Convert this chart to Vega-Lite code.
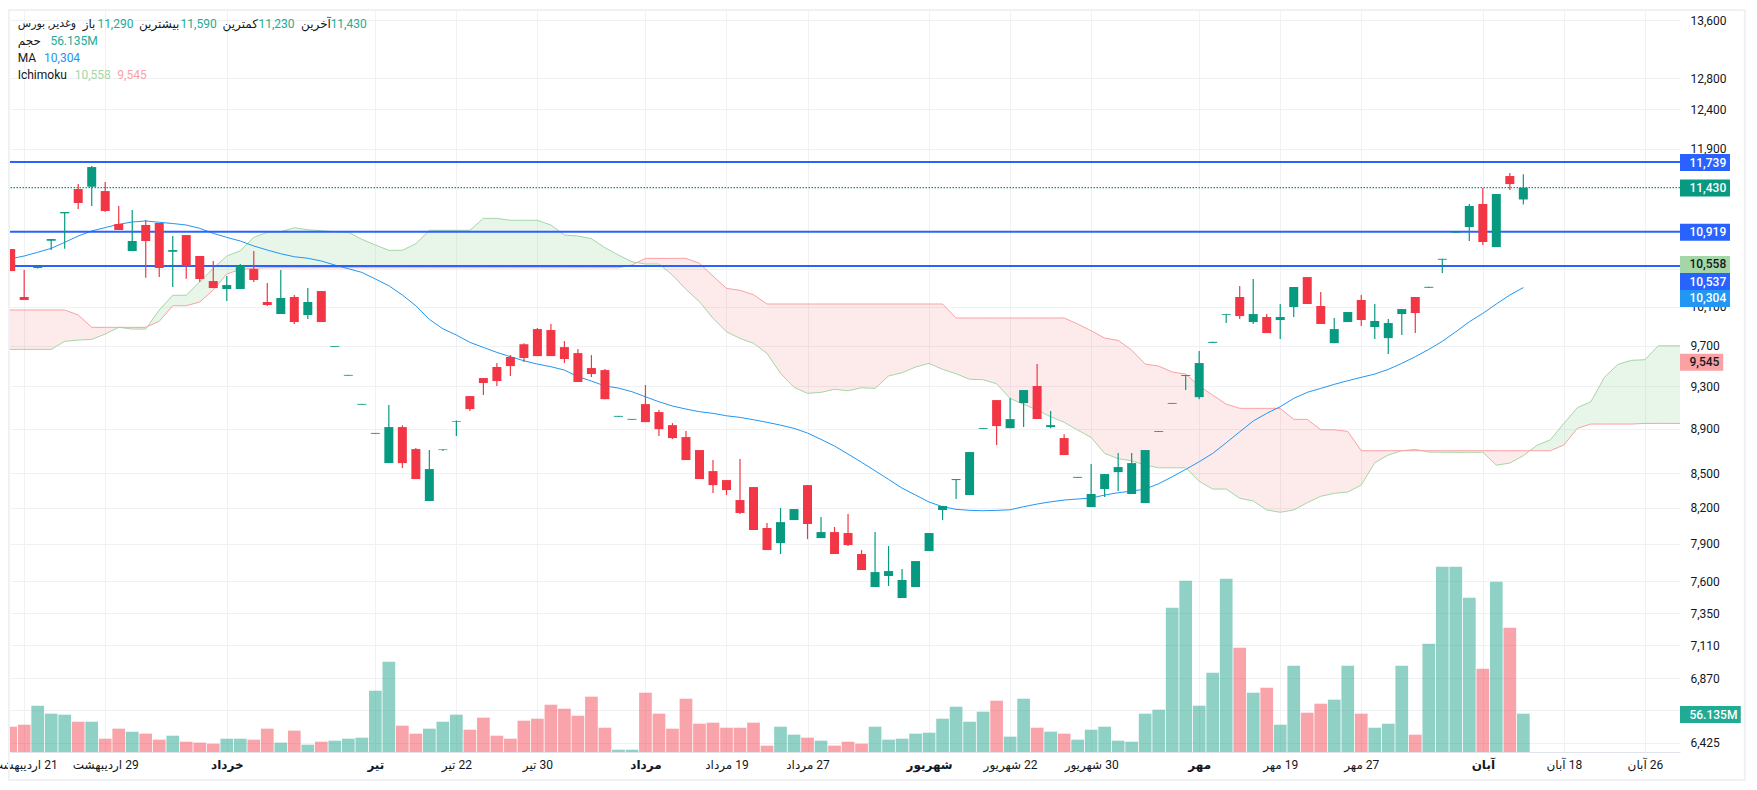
{
  "$schema": "https://vega.github.io/schema/vega-lite/v6.json",
  "width": 1670,
  "height": 742,
  "autosize": "none",
  "padding": {"left": 10, "top": 10, "right": 77, "bottom": 38},
  "background": "white",
  "config": {
    "font": "Roboto, DejaVu Sans",
    "view": {"stroke": null},
    "text": {"font": "Roboto, DejaVu Sans", "fontSize": 12}
  },
  "datasets": {
    "candles": [
      {"bar":-1,"open":10724,"high":10724,"low":10482,"close":10482,"volume":37.1,"ma":10617},
      {"bar":0,"open":10204,"high":10493,"low":10172,"close":10172,"volume":40.0,"ma":10647},
      {"bar":1,"open":10515,"high":10531,"low":10509,"close":10531,"volume":67.9,"ma":10688},
      {"bar":2,"open":10817,"high":10836,"low":10713,"close":10836,"volume":56.2,"ma":10732},
      {"bar":3,"open":11129,"high":11144,"low":10727,"close":11144,"volume":54.7,"ma":10799},
      {"bar":4,"open":11413,"high":11472,"low":11179,"close":11249,"volume":44.4,"ma":10870},
      {"bar":5,"open":11440,"high":11688,"low":11214,"close":11676,"volume":44.4,"ma":10927},
      {"bar":6,"open":11389,"high":11496,"low":11144,"close":11156,"volume":19.5,"ma":10966},
      {"bar":7,"open":11006,"high":11214,"low":10938,"close":10938,"volume":34.2,"ma":11003},
      {"bar":8,"open":10702,"high":11167,"low":10702,"close":10814,"volume":29.8,"ma":11029},
      {"bar":9,"open":10995,"high":11052,"low":10410,"close":10814,"volume":26.9,"ma":11041},
      {"bar":10,"open":11018,"high":11018,"low":10417,"close":10515,"volume":18.1,"ma":11026},
      {"bar":11,"open":10694,"high":10870,"low":10310,"close":10713,"volume":23.9,"ma":11012},
      {"bar":12,"open":10881,"high":10881,"low":10399,"close":10537,"volume":15.1,"ma":10995},
      {"bar":13,"open":10647,"high":10647,"low":10364,"close":10396,"volume":13.7,"ma":10957},
      {"bar":14,"open":10374,"high":10592,"low":10299,"close":10299,"volume":12.2,"ma":10900},
      {"bar":15,"open":10289,"high":10428,"low":10162,"close":10331,"volume":19.5,"ma":10855},
      {"bar":16,"open":10289,"high":10559,"low":10289,"close":10537,"volume":19.5,"ma":10814},
      {"bar":17,"open":10504,"high":10702,"low":10364,"close":10385,"volume":18.1,"ma":10758},
      {"bar":18,"open":10151,"high":10353,"low":10109,"close":10119,"volume":34.2,"ma":10713},
      {"bar":19,"open":10025,"high":10493,"low":10025,"close":10193,"volume":13.7,"ma":10672},
      {"bar":20,"open":10204,"high":10225,"low":9922,"close":9942,"volume":31.3,"ma":10639},
      {"bar":21,"open":10015,"high":10299,"low":9973,"close":10151,"volume":10.7,"ma":10622},
      {"bar":22,"open":10267,"high":10267,"low":9942,"close":9942,"volume":15.1,"ma":10592},
      {"bar":23,"open":9690,"high":9698,"low":9690,"close":9698,"volume":16.6,"ma":10548},
      {"bar":24,"open":9404,"high":9412,"low":9404,"close":9412,"volume":19.5,"ma":10507},
      {"bar":25,"open":9125,"high":9133,"low":9125,"close":9133,"volume":21.0,"ma":10468},
      {"bar":26,"open":8854,"high":8862,"low":8854,"close":8862,"volume":89.8,"ma":10396},
      {"bar":27,"open":8589,"high":9122,"low":8589,"close":8916,"volume":132.3,"ma":10324},
      {"bar":28,"open":8916,"high":8934,"low":8545,"close":8589,"volume":38.6,"ma":10225},
      {"bar":29,"open":8715,"high":8724,"low":8448,"close":8448,"volume":26.9,"ma":10112},
      {"bar":30,"open":8258,"high":8706,"low":8258,"close":8536,"volume":34.2,"ma":9970},
      {"bar":31,"open":8706,"high":8712,"low":8697,"close":8712,"volume":44.4,"ma":9873},
      {"bar":32,"open":8963,"high":8978,"low":8833,"close":8969,"volume":54.7,"ma":9809},
      {"bar":33,"open":9207,"high":9207,"low":9066,"close":9084,"volume":32.7,"ma":9735},
      {"bar":34,"open":9381,"high":9381,"low":9217,"close":9333,"volume":50.3,"ma":9684},
      {"bar":35,"open":9489,"high":9528,"low":9304,"close":9352,"volume":23.9,"ma":9634},
      {"bar":36,"open":9588,"high":9607,"low":9401,"close":9498,"volume":19.5,"ma":9591},
      {"bar":37,"open":9717,"high":9727,"low":9538,"close":9578,"volume":45.9,"ma":9551},
      {"bar":38,"open":9870,"high":9881,"low":9597,"close":9597,"volume":48.8,"ma":9518},
      {"bar":39,"open":9860,"high":9922,"low":9597,"close":9597,"volume":69.3,"ma":9492},
      {"bar":40,"open":9687,"high":9748,"low":9528,"close":9568,"volume":63.5,"ma":9459},
      {"bar":41,"open":9627,"high":9667,"low":9343,"close":9343,"volume":53.2,"ma":9394},
      {"bar":42,"open":9479,"high":9607,"low":9391,"close":9420,"volume":81.1,"ma":9352},
      {"bar":43,"open":9459,"high":9469,"low":9178,"close":9178,"volume":35.6,"ma":9304},
      {"bar":44,"open":9012,"high":9020,"low":9012,"close":9020,"volume":3.4,"ma":9284},
      {"bar":45,"open":8984,"high":8992,"low":8984,"close":8992,"volume":3.4,"ma":9249},
      {"bar":46,"open":9131,"high":9313,"low":8962,"close":8962,"volume":86.9,"ma":9201},
      {"bar":47,"open":9056,"high":9075,"low":8833,"close":8897,"volume":56.2,"ma":9153},
      {"bar":48,"open":8934,"high":8953,"low":8806,"close":8815,"volume":34.2,"ma":9113},
      {"bar":49,"open":8824,"high":8879,"low":8616,"close":8616,"volume":78.1,"ma":9084},
      {"bar":50,"open":8706,"high":8706,"low":8448,"close":8448,"volume":41.5,"ma":9059},
      {"bar":51,"open":8518,"high":8616,"low":8326,"close":8395,"volume":43.0,"ma":9044},
      {"bar":52,"open":8439,"high":8439,"low":8309,"close":8352,"volume":35.6,"ma":9021},
      {"bar":53,"open":8266,"high":8625,"low":8147,"close":8156,"volume":35.6,"ma":9006},
      {"bar":54,"open":8378,"high":8378,"low":8013,"close":8013,"volume":43.0,"ma":8984},
      {"bar":55,"open":8030,"high":8071,"low":7848,"close":7848,"volume":9.3,"ma":8960},
      {"bar":56,"open":7905,"high":8198,"low":7816,"close":8079,"volume":37.1,"ma":8934},
      {"bar":57,"open":8096,"high":8189,"low":8096,"close":8189,"volume":25.4,"ma":8904},
      {"bar":58,"open":8395,"high":8395,"low":7938,"close":8063,"volume":21.0,"ma":8861},
      {"bar":59,"open":7946,"high":8121,"low":7946,"close":7996,"volume":16.6,"ma":8803},
      {"bar":60,"open":7996,"high":8038,"low":7816,"close":7816,"volume":9.3,"ma":8742},
      {"bar":61,"open":7988,"high":8147,"low":7881,"close":7889,"volume":15.1,"ma":8670},
      {"bar":62,"open":7816,"high":7848,"low":7687,"close":7687,"volume":12.2,"ma":8596},
      {"bar":63,"open":7553,"high":7996,"low":7553,"close":7671,"volume":37.1,"ma":8521},
      {"bar":64,"open":7640,"high":7881,"low":7561,"close":7679,"volume":18.1,"ma":8445},
      {"bar":65,"open":7467,"high":7695,"low":7467,"close":7608,"volume":19.5,"ma":8369},
      {"bar":66,"open":7553,"high":7759,"low":7553,"close":7759,"volume":26.9,"ma":8309},
      {"bar":67,"open":7840,"high":7988,"low":7840,"close":7988,"volume":28.3,"ma":8249},
      {"bar":68,"open":8181,"high":8215,"low":8096,"close":8215,"volume":48.8,"ma":8209},
      {"bar":69,"open":8439,"high":8448,"low":8275,"close":8448,"volume":66.4,"ma":8187},
      {"bar":70,"open":8309,"high":8688,"low":8309,"close":8688,"volume":44.4,"ma":8178},
      {"bar":71,"open":8900,"high":8908,"low":8900,"close":8908,"volume":59.1,"ma":8175},
      {"bar":72,"open":9169,"high":9169,"low":8751,"close":8925,"volume":75.2,"ma":8178},
      {"bar":73,"open":8906,"high":9188,"low":8906,"close":8990,"volume":22.5,"ma":8183},
      {"bar":74,"open":9141,"high":9265,"low":8916,"close":9265,"volume":78.1,"ma":8209},
      {"bar":75,"open":9304,"high":9518,"low":8990,"close":8990,"volume":35.6,"ma":8232},
      {"bar":76,"open":8916,"high":9066,"low":8906,"close":8934,"volume":29.8,"ma":8251},
      {"bar":77,"open":8815,"high":8851,"low":8661,"close":8661,"volume":26.9,"ma":8266},
      {"bar":78,"open":8459,"high":8467,"low":8459,"close":8467,"volume":18.1,"ma":8275},
      {"bar":79,"open":8206,"high":8580,"low":8206,"close":8318,"volume":32.7,"ma":8283},
      {"bar":80,"open":8361,"high":8492,"low":8292,"close":8492,"volume":37.1,"ma":8309},
      {"bar":81,"open":8509,"high":8679,"low":8343,"close":8554,"volume":16.6,"ma":8329},
      {"bar":82,"open":8318,"high":8679,"low":8318,"close":8589,"volume":15.1,"ma":8343},
      {"bar":83,"open":8240,"high":8706,"low":8240,"close":8706,"volume":56.2,"ma":8361},
      {"bar":84,"open":8872,"high":8880,"low":8872,"close":8880,"volume":62.0,"ma":8407},
      {"bar":85,"open":9134,"high":9142,"low":9134,"close":9142,"volume":211.4,"ma":8468},
      {"bar":86,"open":9401,"high":9410,"low":9265,"close":9410,"volume":251.0,"ma":8533},
      {"bar":87,"open":9197,"high":9647,"low":9178,"close":9528,"volume":67.9,"ma":8601},
      {"bar":88,"open":9730,"high":9740,"low":9730,"close":9740,"volume":116.2,"ma":8676},
      {"bar":89,"open":10018,"high":10026,"low":9932,"close":10026,"volume":253.9,"ma":8772},
      {"bar":90,"open":10204,"high":10321,"low":9973,"close":10004,"volume":152.8,"ma":8872},
      {"bar":91,"open":9942,"high":10396,"low":9922,"close":10025,"volume":86.9,"ma":8972},
      {"bar":92,"open":9994,"high":10025,"low":9829,"close":9829,"volume":94.2,"ma":9044},
      {"bar":93,"open":9963,"high":10130,"low":9768,"close":9994,"volume":40.0,"ma":9106},
      {"bar":94,"open":10098,"high":10310,"low":9994,"close":10310,"volume":126.5,"ma":9185},
      {"bar":95,"open":10417,"high":10417,"low":10130,"close":10130,"volume":57.6,"ma":9243},
      {"bar":96,"open":10109,"high":10257,"low":9922,"close":9922,"volume":70.8,"ma":9281},
      {"bar":97,"open":9727,"high":9984,"low":9727,"close":9870,"volume":76.7,"ma":9320},
      {"bar":98,"open":9942,"high":10046,"low":9942,"close":10046,"volume":126.5,"ma":9355},
      {"bar":99,"open":10172,"high":10225,"low":9901,"close":9963,"volume":56.2,"ma":9388},
      {"bar":100,"open":9891,"high":10130,"low":9768,"close":9953,"volume":35.6,"ma":9420},
      {"bar":101,"open":9778,"high":9973,"low":9617,"close":9932,"volume":41.5,"ma":9466},
      {"bar":102,"open":10025,"high":10077,"low":9809,"close":10077,"volume":126.5,"ma":9525},
      {"bar":103,"open":10204,"high":10204,"low":9829,"close":10036,"volume":25.4,"ma":9591},
      {"bar":104,"open":10302,"high":10312,"low":10302,"close":10312,"volume":158.7,"ma":9664},
      {"bar":105,"open":10606,"high":10616,"low":10461,"close":10616,"volume":271.5,"ma":9745},
      {"bar":106,"open":10908,"high":10916,"low":10908,"close":10916,"volume":271.5,"ma":9842},
      {"bar":107,"open":10972,"high":11237,"low":10814,"close":11214,"volume":226.1,"ma":9945},
      {"bar":108,"open":11237,"high":11425,"low":10769,"close":10803,"volume":122.1,"ma":10032},
      {"bar":109,"open":10746,"high":11354,"low":10746,"close":11354,"volume":249.5,"ma":10130},
      {"bar":110,"open":11568,"high":11604,"low":11401,"close":11472,"volume":182.1,"ma":10225},
      {"bar":111,"open":11290,"high":11590,"low":11230,"close":11430,"volume":56.135,"ma":10304}
    ],
    "ichimoku": [
      {"bar":-1.05,"a":9664,"b":10067,"kumo":"bear","seg":1},
      {"bar":2,"a":9664,"b":10067,"kumo":"bear","seg":1},
      {"bar":3,"a":9745,"b":10067,"kumo":"bear","seg":1},
      {"bar":4,"a":9758,"b":10015,"kumo":"bear","seg":1},
      {"bar":5,"a":9765,"b":9888,"kumo":"bear","seg":1},
      {"bar":6,"a":9819,"b":9888,"kumo":"bear","seg":1},
      {"bar":7,"a":9888,"b":9888,"kumo":"bear","seg":1},
      {"bar":8,"a":9870,"b":9888,"kumo":"bear","seg":1},
      {"bar":9,"a":9870,"b":9888,"kumo":"bear","seg":1},
      {"bar":9.13,"a":9896,"b":9896,"kumo":"bear","seg":1},
      {"bar":9.13,"a":9896,"b":9896,"kumo":"bull","seg":2},
      {"bar":10,"a":10067,"b":9950,"kumo":"bull","seg":2},
      {"bar":11,"a":10222,"b":10112,"kumo":"bull","seg":2},
      {"bar":12,"a":10222,"b":10112,"kumo":"bull","seg":2},
      {"bar":13,"a":10367,"b":10151,"kumo":"bull","seg":2},
      {"bar":14,"a":10512,"b":10278,"kumo":"bull","seg":2},
      {"bar":15,"a":10647,"b":10450,"kumo":"bull","seg":2},
      {"bar":16,"a":10705,"b":10501,"kumo":"bull","seg":2},
      {"bar":17,"a":10855,"b":10512,"kumo":"bull","seg":2},
      {"bar":18,"a":10912,"b":10518,"kumo":"bull","seg":2},
      {"bar":19,"a":10919,"b":10518,"kumo":"bull","seg":2},
      {"bar":20,"a":10964,"b":10518,"kumo":"bull","seg":2},
      {"bar":21,"a":10941,"b":10518,"kumo":"bull","seg":2},
      {"bar":22,"a":10930,"b":10518,"kumo":"bull","seg":2},
      {"bar":23,"a":10919,"b":10518,"kumo":"bull","seg":2},
      {"bar":24,"a":10912,"b":10518,"kumo":"bull","seg":2},
      {"bar":25,"a":10833,"b":10518,"kumo":"bull","seg":2},
      {"bar":26,"a":10769,"b":10518,"kumo":"bull","seg":2},
      {"bar":27,"a":10710,"b":10518,"kumo":"bull","seg":2},
      {"bar":28,"a":10710,"b":10518,"kumo":"bull","seg":2},
      {"bar":29,"a":10784,"b":10518,"kumo":"bull","seg":2},
      {"bar":30,"a":10935,"b":10518,"kumo":"bull","seg":2},
      {"bar":31,"a":10935,"b":10518,"kumo":"bull","seg":2},
      {"bar":32,"a":10935,"b":10518,"kumo":"bull","seg":2},
      {"bar":33,"a":10935,"b":10518,"kumo":"bull","seg":2},
      {"bar":34,"a":11071,"b":10518,"kumo":"bull","seg":2},
      {"bar":35,"a":11071,"b":10518,"kumo":"bull","seg":2},
      {"bar":36,"a":11049,"b":10518,"kumo":"bull","seg":2},
      {"bar":37,"a":11049,"b":10518,"kumo":"bull","seg":2},
      {"bar":38,"a":11049,"b":10518,"kumo":"bull","seg":2},
      {"bar":39,"a":10995,"b":10518,"kumo":"bull","seg":2},
      {"bar":40,"a":10881,"b":10518,"kumo":"bull","seg":2},
      {"bar":41,"a":10870,"b":10518,"kumo":"bull","seg":2},
      {"bar":42,"a":10840,"b":10518,"kumo":"bull","seg":2},
      {"bar":43,"a":10739,"b":10518,"kumo":"bull","seg":2},
      {"bar":44,"a":10658,"b":10518,"kumo":"bull","seg":2},
      {"bar":45,"a":10584,"b":10548,"kumo":"bull","seg":2},
      {"bar":45.37,"a":10575,"b":10575,"kumo":"bull","seg":2},
      {"bar":45.37,"a":10575,"b":10575,"kumo":"bear","seg":3},
      {"bar":46,"a":10559,"b":10621,"kumo":"bear","seg":3},
      {"bar":47,"a":10559,"b":10621,"kumo":"bear","seg":3},
      {"bar":48,"a":10439,"b":10621,"kumo":"bear","seg":3},
      {"bar":49,"a":10285,"b":10621,"kumo":"bear","seg":3},
      {"bar":50,"a":10154,"b":10567,"kumo":"bear","seg":3},
      {"bar":51,"a":9981,"b":10428,"kumo":"bear","seg":3},
      {"bar":52,"a":9842,"b":10296,"kumo":"bear","seg":3},
      {"bar":53,"a":9775,"b":10275,"kumo":"bear","seg":3},
      {"bar":54,"a":9725,"b":10228,"kumo":"bear","seg":3},
      {"bar":55,"a":9624,"b":10130,"kumo":"bear","seg":3},
      {"bar":56,"a":9427,"b":10130,"kumo":"bear","seg":3},
      {"bar":57,"a":9291,"b":10130,"kumo":"bear","seg":3},
      {"bar":58,"a":9233,"b":10130,"kumo":"bear","seg":3},
      {"bar":59,"a":9243,"b":10130,"kumo":"bear","seg":3},
      {"bar":60,"a":9272,"b":10130,"kumo":"bear","seg":3},
      {"bar":61,"a":9258,"b":10130,"kumo":"bear","seg":3},
      {"bar":62,"a":9287,"b":10130,"kumo":"bear","seg":3},
      {"bar":63,"a":9281,"b":10130,"kumo":"bear","seg":3},
      {"bar":64,"a":9401,"b":10130,"kumo":"bear","seg":3},
      {"bar":65,"a":9433,"b":10130,"kumo":"bear","seg":3},
      {"bar":66,"a":9489,"b":10130,"kumo":"bear","seg":3},
      {"bar":67,"a":9525,"b":10130,"kumo":"bear","seg":3},
      {"bar":68,"a":9466,"b":10130,"kumo":"bear","seg":3},
      {"bar":69,"a":9423,"b":9984,"kumo":"bear","seg":3},
      {"bar":70,"a":9369,"b":9984,"kumo":"bear","seg":3},
      {"bar":71,"a":9365,"b":9984,"kumo":"bear","seg":3},
      {"bar":72,"a":9326,"b":9984,"kumo":"bear","seg":3},
      {"bar":73,"a":9185,"b":9984,"kumo":"bear","seg":3},
      {"bar":74,"a":9129,"b":9984,"kumo":"bear","seg":3},
      {"bar":75,"a":9075,"b":9984,"kumo":"bear","seg":3},
      {"bar":76,"a":9012,"b":9984,"kumo":"bear","seg":3},
      {"bar":77,"a":8960,"b":9984,"kumo":"bear","seg":3},
      {"bar":78,"a":8888,"b":9922,"kumo":"bear","seg":3},
      {"bar":79,"a":8821,"b":9853,"kumo":"bear","seg":3},
      {"bar":80,"a":8676,"b":9778,"kumo":"bear","seg":3},
      {"bar":81,"a":8628,"b":9755,"kumo":"bear","seg":3},
      {"bar":82,"a":8610,"b":9657,"kumo":"bear","seg":3},
      {"bar":83,"a":8571,"b":9518,"kumo":"bear","seg":3},
      {"bar":84,"a":8547,"b":9498,"kumo":"bear","seg":3},
      {"bar":85,"a":8547,"b":9440,"kumo":"bear","seg":3},
      {"bar":86,"a":8547,"b":9420,"kumo":"bear","seg":3},
      {"bar":87,"a":8428,"b":9304,"kumo":"bear","seg":3},
      {"bar":88,"a":8361,"b":9217,"kumo":"bear","seg":3},
      {"bar":89,"a":8361,"b":9131,"kumo":"bear","seg":3},
      {"bar":90,"a":8281,"b":9091,"kumo":"bear","seg":3},
      {"bar":91,"a":8258,"b":9091,"kumo":"bear","seg":3},
      {"bar":92,"a":8181,"b":9091,"kumo":"bear","seg":3},
      {"bar":93,"a":8162,"b":9091,"kumo":"bear","seg":3},
      {"bar":94,"a":8181,"b":8988,"kumo":"bear","seg":3},
      {"bar":95,"a":8243,"b":8988,"kumo":"bear","seg":3},
      {"bar":96,"a":8298,"b":8891,"kumo":"bear","seg":3},
      {"bar":97,"a":8324,"b":8891,"kumo":"bear","seg":3},
      {"bar":98,"a":8335,"b":8876,"kumo":"bear","seg":3},
      {"bar":99,"a":8395,"b":8700,"kumo":"bear","seg":3},
      {"bar":100,"a":8592,"b":8700,"kumo":"bear","seg":3},
      {"bar":101,"a":8661,"b":8700,"kumo":"bear","seg":3},
      {"bar":102,"a":8700,"b":8700,"kumo":"bear","seg":3},
      {"bar":103,"a":8712,"b":8700,"kumo":"bear","seg":3},
      {"bar":104,"a":8688,"b":8700,"kumo":"bear","seg":3},
      {"bar":105,"a":8686,"b":8700,"kumo":"bear","seg":3},
      {"bar":106,"a":8686,"b":8700,"kumo":"bear","seg":3},
      {"bar":107,"a":8686,"b":8700,"kumo":"bear","seg":3},
      {"bar":108,"a":8686,"b":8700,"kumo":"bear","seg":3},
      {"bar":109,"a":8571,"b":8700,"kumo":"bear","seg":3},
      {"bar":110,"a":8589,"b":8700,"kumo":"bear","seg":3},
      {"bar":111,"a":8655,"b":8700,"kumo":"bear","seg":3},
      {"bar":111.48,"a":8700,"b":8700,"kumo":"bear","seg":3},
      {"bar":111.48,"a":8700,"b":8700,"kumo":"bull","seg":4},
      {"bar":112,"a":8748,"b":8700,"kumo":"bull","seg":4},
      {"bar":113,"a":8799,"b":8700,"kumo":"bull","seg":4},
      {"bar":114,"a":8950,"b":8752,"kumo":"bull","seg":4},
      {"bar":115,"a":9097,"b":8904,"kumo":"bull","seg":4},
      {"bar":116,"a":9153,"b":8944,"kumo":"bull","seg":4},
      {"bar":117,"a":9388,"b":8944,"kumo":"bull","seg":4},
      {"bar":118,"a":9515,"b":8944,"kumo":"bull","seg":4},
      {"bar":119,"a":9555,"b":8944,"kumo":"bull","seg":4},
      {"bar":120,"a":9561,"b":8950,"kumo":"bull","seg":4},
      {"bar":121,"a":9700,"b":8950,"kumo":"bull","seg":4},
      {"bar":122,"a":9700,"b":8950,"kumo":"bull","seg":4},
      {"bar":122.6,"a":9700,"b":8950,"kumo":"bull","seg":4}
    ],
    "tags": [
      {"label":"11,739","slot":11731,"series":"level"},
      {"label":"11,430","slot":11425,"series":"last"},
      {"label":"10,919","slot":10913,"series":"level"},
      {"label":"10,558","slot":10554,"series":"spanA"},
      {"label":"10,537","slot":10369,"series":"level"},
      {"label":"10,304","slot":10188,"series":"ma"},
      {"label":"9,545","slot":9536,"series":"spanB"},
      {"label":"56.135M","slot":6617,"series":"volume"}
    ],
    "legend": [
      {"text":"وغدیر, بورس","bar":-0.48,"price":13548,"series":"text"},
      {"text":"باز","bar":4.33,"price":13548,"series":"text"},
      {"text":"11,290","bar":5.42,"price":13548,"series":"volume"},
      {"text":"بیشترین","bar":8.5,"price":13548,"series":"text"},
      {"text":"11,590","bar":11.58,"price":13548,"series":"volume"},
      {"text":"کمترین","bar":14.69,"price":13548,"series":"text"},
      {"text":"11,230","bar":17.35,"price":13548,"series":"volume"},
      {"text":"آخرین","bar":20.5,"price":13548,"series":"text"},
      {"text":"11,430","bar":22.69,"price":13548,"series":"volume"},
      {"text":"حجم","bar":-0.48,"price":13311,"series":"text"},
      {"text":"56.135M","bar":1.94,"price":13311,"series":"volume"},
      {"text":"MA","bar":-0.48,"price":13074,"series":"text"},
      {"text":"10,304","bar":1.47,"price":13074,"series":"ma"},
      {"text":"Ichimoku","bar":-0.48,"price":12845,"series":"text"},
      {"text":"10,558","bar":3.74,"price":12845,"series":"spanA"},
      {"text":"9,545","bar":6.9,"price":12845,"series":"spanB"}
    ]
  },
  "resolve": {"scale": {"y": "independent"}},
  "layer": [
    {
      "data": {"name": "candles"},
      "mark": {"type": "bar", "size": 12.7, "clip": true, "opacity": 0.45, "orient": "vertical"},
      "encoding": {
        "x": {
          "field": "bar",
          "type": "quantitative",
          "title": null,
          "scale": {"domain": [-1.05, 122.6], "nice": false, "zero": false, "padding": 0},
          "axis": {
            "values": [0, 6, 15, 26, 32, 38, 46, 52, 58, 67, 73, 79, 87, 93, 99, 108, 114, 120],
            "labelExpr": "{'0':'\u200f21 اردیبهشت','6':'\u200f29 اردیبهشت','15':'خرداد','26':'تیر','32':'\u200f22 تیر','38':'\u200f30 تیر','46':'مرداد','52':'\u200f19 مرداد','58':'\u200f27 مرداد','67':'شهریور','73':'\u200f22 شهریور','79':'\u200f30 شهریور','87':'مهر','93':'\u200f19 مهر','99':'\u200f27 مهر','108':'آبان','114':'\u200f18 آبان','120':'\u200f26 آبان'}[datum.value]",
            "labelFontWeight": {"condition": {"test": "indexof([15,26,46,67,87,108],datum.value)>=0", "value": "bold"}, "value": "normal"},
            "grid": true,
            "gridColor": "#f0f1f4",
            "domainColor": "#e0e3eb",
            "ticks": false,
            "labelPadding": 7,
            "labelFontSize": 12,
            "labelColor": "#131722",
            "labelOverlap": false,
            "labelBound": false,
            "labelFlush": false
          }
        },
        "y": {"field": "volume", "type": "quantitative", "stack": null, "scale": {"domain": [0, 1087.6], "nice": false}, "axis": null},
        "color": {"condition": {"test": "datum.close>=datum.open", "value": "#089981"}, "value": "#F23645"}
      }
    },
    {
      "data": {"name": "ichimoku"},
      "mark": {"type": "area", "orient": "vertical", "clip": true},
      "encoding": {
        "x": {"field": "bar", "type": "quantitative"},
        "y": {
          "field": "a",
          "type": "quantitative",
          "scale": {"type": "log", "domain": [6365, 13742], "nice": false},
          "axis": {
            "orient": "right",
            "title": null,
            "values": [6425, 6645, 6870, 7110, 7350, 7600, 7900, 8200, 8500, 8900, 9300, 9700, 10100, 10500, 11900, 12400, 12800, 13600],
            "labelExpr": "datum.value==10500?'':format(datum.value,',d')",
            "grid": true,
            "gridColor": "#f0f1f4",
            "domain": false,
            "ticks": false,
            "labelPadding": 10,
            "labelFontSize": 12,
            "labelColor": "#131722",
            "labelOverlap": false,
            "labelBound": false,
            "labelFlush": false
          }
        },
        "y2": {"field": "b"},
        "detail": {"field": "seg"},
        "color": {
          "field": "kumo",
          "type": "nominal",
          "legend": null,
          "scale": {"domain": ["bull", "bear", "level", "last", "ma", "spanA", "spanB", "volume", "text"], "range": ["rgba(165,214,167,0.25)", "rgba(239,83,80,0.12)", "#2962FF", "#089981", "#2196F3", "#A5D6A7", "#FAA1A4", "#22AB94", "#131722"]}
        }
      }
    },
    {
      "data": {"name": "ichimoku"},
      "mark": {"type": "line", "color": "#A5D6A7", "strokeWidth": 1, "clip": true},
      "encoding": {
        "x": {"field": "bar", "type": "quantitative"},
        "y": {"field": "a", "type": "quantitative", "scale": {"type": "log", "domain": [6365, 13742], "nice": false}, "axis": null}
      }
    },
    {
      "data": {"name": "ichimoku"},
      "mark": {"type": "line", "color": "#FAA1A4", "strokeWidth": 1, "clip": true},
      "encoding": {
        "x": {"field": "bar", "type": "quantitative"},
        "y": {"field": "b", "type": "quantitative", "scale": {"type": "log", "domain": [6365, 13742], "nice": false}, "axis": null}
      }
    },
    {
      "data": {"name": "candles"},
      "mark": {"type": "line", "color": "#2196F3", "strokeWidth": 1, "clip": true},
      "encoding": {
        "x": {"field": "bar", "type": "quantitative"},
        "y": {"field": "ma", "type": "quantitative", "scale": {"type": "log", "domain": [6365, 13742], "nice": false}, "axis": null}
      }
    },
    {
      "data": {"values": [{"level": 11739}, {"level": 10919}, {"level": 10537}]},
      "mark": {"type": "rule", "color": "#2962FF", "strokeWidth": 2},
      "encoding": {
        "y": {"field": "level", "type": "quantitative", "scale": {"type": "log", "domain": [6365, 13742], "nice": false}, "axis": null}
      }
    },
    {
      "data": {"values": [{"level": 11430}]},
      "mark": {"type": "rule", "color": "#089981", "strokeWidth": 1.3, "strokeDash": [1.5, 1.5]},
      "encoding": {
        "y": {"field": "level", "type": "quantitative", "scale": {"type": "log", "domain": [6365, 13742], "nice": false}, "axis": null}
      }
    },
    {
      "data": {"name": "candles"},
      "mark": {"type": "rule", "strokeWidth": 1.2, "clip": true},
      "encoding": {
        "x": {"field": "bar", "type": "quantitative"},
        "y": {"field": "low", "type": "quantitative", "scale": {"type": "log", "domain": [6365, 13742], "nice": false}, "axis": null},
        "y2": {"field": "high"},
        "color": {"condition": {"test": "datum.close>=datum.open", "value": "#089981"}, "value": "#F23645"}
      }
    },
    {
      "data": {"name": "candles"},
      "mark": {"type": "bar", "size": 9, "clip": true, "orient": "vertical"},
      "encoding": {
        "x": {"field": "bar", "type": "quantitative"},
        "y": {"field": "open", "type": "quantitative", "scale": {"type": "log", "domain": [6365, 13742], "nice": false}, "axis": null},
        "y2": {"field": "close"},
        "color": {"condition": {"test": "datum.close>=datum.open", "value": "#089981"}, "value": "#F23645"}
      }
    },
    {
      "data": {"name": "tags"},
      "transform": [{"filter": "datum.series!='spanB'&&datum.series!='volume'"}],
      "mark": {"type": "rule", "strokeWidth": 17},
      "encoding": {
        "x": {"datum": 122.6, "type": "quantitative"},
        "x2": {"datum": 126.3},
        "y": {"field": "slot", "type": "quantitative", "scale": {"type": "log", "domain": [6365, 13742], "nice": false}, "axis": null},
        "color": {"field": "series", "type": "nominal", "legend": null}
      }
    },
    {
      "data": {"name": "tags"},
      "transform": [{"filter": "datum.series=='spanB'"}],
      "mark": {"type": "rule", "strokeWidth": 17},
      "encoding": {
        "x": {"datum": 122.6, "type": "quantitative"},
        "x2": {"datum": 125.8},
        "y": {"field": "slot", "type": "quantitative", "scale": {"type": "log", "domain": [6365, 13742], "nice": false}, "axis": null},
        "color": {"field": "series", "type": "nominal", "legend": null}
      }
    },
    {
      "data": {"name": "tags"},
      "transform": [{"filter": "datum.series=='volume'"}],
      "mark": {"type": "rule", "strokeWidth": 17},
      "encoding": {
        "x": {"datum": 122.6, "type": "quantitative"},
        "x2": {"datum": 127.1},
        "y": {"field": "slot", "type": "quantitative", "scale": {"type": "log", "domain": [6365, 13742], "nice": false}, "axis": null},
        "color": {"field": "series", "type": "nominal", "legend": null}
      }
    },
    {
      "data": {"name": "tags"},
      "mark": {"type": "text", "align": "left", "baseline": "middle", "fontSize": 12, "fontWeight": 500},
      "encoding": {
        "x": {"datum": 123.3, "type": "quantitative"},
        "y": {"field": "slot", "type": "quantitative", "scale": {"type": "log", "domain": [6365, 13742], "nice": false}, "axis": null},
        "text": {"field": "label"},
        "color": {"condition": {"test": "datum.series=='spanA'||datum.series=='spanB'", "value": "#131722"}, "value": "white"}
      }
    },
    {
      "data": {"name": "legend"},
      "transform": [{"filter": "indexof(datum.text,'بورس')<0"}],
      "mark": {"type": "text", "align": "left", "baseline": "middle", "fontSize": 12},
      "encoding": {
        "x": {"field": "bar", "type": "quantitative"},
        "y": {"field": "price", "type": "quantitative", "scale": {"type": "log", "domain": [6365, 13742], "nice": false}, "axis": null},
        "text": {"field": "text"},
        "color": {"field": "series", "type": "nominal", "legend": null}
      }
    },
    {
      "data": {"name": "legend"},
      "transform": [{"filter": "indexof(datum.text,'بورس')>=0"}],
      "mark": {"type": "text", "align": "left", "baseline": "middle", "fontSize": 11},
      "encoding": {
        "x": {"field": "bar", "type": "quantitative"},
        "y": {"field": "price", "type": "quantitative", "scale": {"type": "log", "domain": [6365, 13742], "nice": false}, "axis": null},
        "text": {"field": "text"},
        "color": {"field": "series", "type": "nominal", "legend": null}
      }
    },
    {
      "data": {"values": [{"frame": "chart"}]},
      "mark": {"type": "rect", "fill": null, "stroke": "#eff1f5", "strokeWidth": 2},
      "encoding": {
        "x": {"datum": -1.13, "type": "quantitative"},
        "x2": {"datum": 127.4},
        "y": {"datum": 13742, "type": "quantitative", "scale": {"type": "log", "domain": [6365, 13742], "nice": false}, "axis": null},
        "y2": {"datum": 6182}
      }
    }
  ]
}
